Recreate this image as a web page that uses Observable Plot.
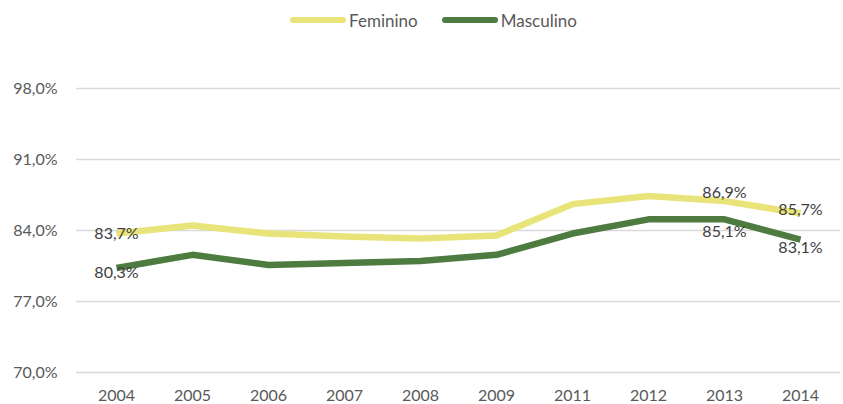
<!DOCTYPE html>
<html>
<head>
<meta charset="utf-8">
<script src="https://cdn.jsdelivr.net/npm/d3@7"></script>
<script src="https://cdn.jsdelivr.net/npm/@observablehq/plot@0.6"></script>
<style>
  html, body { margin: 0; padding: 0; background: #fff; }
  body { width: 843px; height: 404px; overflow: hidden; font-family: Lato, "Open Sans", sans-serif; }
  #legend { height: 40px; display: flex; justify-content: center; align-items: center; gap: 24px; font-size: 17px; color: #595959; padding-left: 24px; box-sizing: border-box; }
  .item { display: flex; align-items: center; gap: 3px; }
  .sw { width: 56px; height: 6px; border-radius: 3px; }
  #chart svg { display: block; }
</style>
</head>
<body>
<div id="legend"></div>
<div id="chart"></div>
<script>
const years = ["2004","2005","2006","2007","2008","2009","2011","2012","2013","2014"];
const feminino = [83.7, 84.5, 83.7, 83.4, 83.2, 83.5, 86.6, 87.4, 86.9, 85.7];
const masculino = [80.3, 81.6, 80.6, 80.8, 81.0, 81.6, 83.7, 85.1, 85.1, 83.1];
const seriesNames = ["Feminino", "Masculino"];
const seriesColors = ["#e8e47a", "#4e7b40"];
const yTicks = [70, 77, 84, 91, 98];
const labeledF = ["2004", "2013", "2014"];
const labeledM = ["2004", "2013", "2014"];

const fmt = v => v.toFixed(1).replace(".", ",") + "%";

const data = [];
years.forEach((yr, i) => {
  data.push({year: yr, value: feminino[i], series: seriesNames[0]});
  data.push({year: yr, value: masculino[i], series: seriesNames[1]});
});
const fData = data.filter(d => d.series === seriesNames[0]);
const mData = data.filter(d => d.series === seriesNames[1]);

const legend = document.getElementById("legend");
seriesNames.forEach((n, i) => {
  const it = document.createElement("div");
  it.className = "item";
  it.innerHTML = `<span class="sw" style="background:${seriesColors[i]}"></span><span>${n}</span>`;
  legend.appendChild(it);
});

const labelDy = {"Feminino": {"2004": 0, "2013": -8, "2014": -3}, "Masculino": {"2004": 5, "2013": 13, "2014": 8}};

const chart = Plot.plot({
  width: 843,
  height: 364,
  marginLeft: 76,
  marginRight: 3,
  marginTop: 48,
  marginBottom: 32,
  style: {fontFamily: "Lato, 'Open Sans', sans-serif", fontSize: "16px", color: "#595959", background: "#fff"},
  x: {type: "point", domain: years, padding: 0.5, label: null},
  y: {domain: [70, 98], label: null},
  color: {domain: seriesNames, range: seriesColors},
  marks: [
    Plot.gridY(yTicks, {stroke: "#d9d9d9", strokeOpacity: 1, strokeWidth: 1.4}),
    Plot.axisY(yTicks, {tickSize: 0, tickPadding: 19, tickFormat: fmt, fill: "#595959", fontSize: 16, label: null}),
    Plot.axisX({tickSize: 0, tickPadding: 17, fill: "#595959", fontSize: 16, label: null}),
    Plot.line(data, {x: "year", y: "value", z: "series", stroke: "series", strokeWidth: 6.5, strokeLinejoin: "round", strokeLinecap: "butt"}),
    ...labeledF.map(yr => Plot.text(fData.filter(d => d.year === yr), {x: "year", y: "value", text: d => fmt(d.value), dy: labelDy.Feminino[yr], fill: "#404040", fontSize: 16})),
    ...labeledM.map(yr => Plot.text(mData.filter(d => d.year === yr), {x: "year", y: "value", text: d => fmt(d.value), dy: labelDy.Masculino[yr], fill: "#404040", fontSize: 16}))
  ]
});
document.getElementById("chart").appendChild(chart);
</script>
</body>
</html>
